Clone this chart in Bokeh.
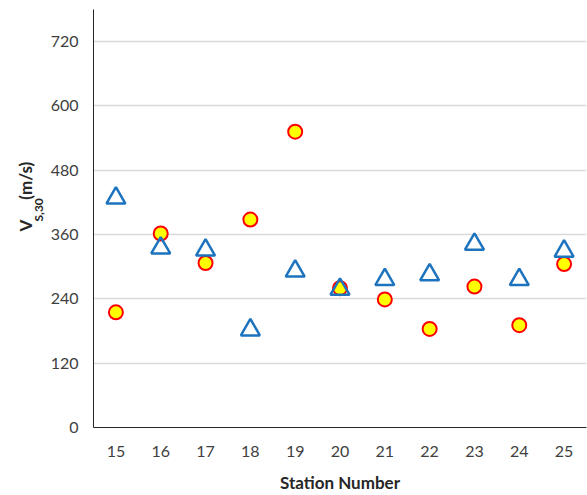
from bokeh.plotting import figure
from bokeh.models import Range1d, FixedTicker, Title
from bokeh.embed import file_html
from bokeh.resources import INLINE

stations = [15, 16, 17, 18, 19, 20, 21, 22, 23, 24, 25]
vs30_circles = [215, 362, 307, 388, 552, 260, 239, 184, 263, 191, 305]
vs30_triangles = [428, 335, 331, 182, 292, 258, 276, 285, 342, 276, 329]
y_ticks = [0, 120, 240, 360, 480, 600, 720]

FONT = "Lato"

p = figure(width=587, height=495, x_range=Range1d(14.5, 25.5), y_range=Range1d(0, 780),
           output_backend="svg", toolbar_location=None,
           min_border_left=93, min_border_right=1, min_border_top=9, min_border_bottom=68)
p.outline_line_color = None
p.background_fill_color = "white"
p.border_fill_color = "white"

p.xgrid.grid_line_color = None
p.ygrid.grid_line_color = "#d9d9d9"
p.ygrid.grid_line_width = 1.5

p.xaxis.ticker = FixedTicker(ticks=stations)
p.yaxis.ticker = FixedTicker(ticks=y_ticks)
for ax in (p.xaxis[0], p.yaxis[0]):
    ax.major_tick_line_color = None
    ax.minor_tick_line_color = None
    ax.major_tick_out = 0
    ax.major_tick_in = 0
    ax.minor_tick_out = 0
    ax.minor_tick_in = 0
    ax.axis_line_color = "#262626"
    ax.axis_line_width = 1
    ax.major_label_text_font = FONT
    ax.major_label_text_font_size = "16px"
    ax.major_label_text_color = "#404040"

p.xaxis.major_label_standoff = 18
p.yaxis.major_label_standoff = 15
p.xaxis.axis_label = "Station Number"
p.xaxis.axis_label_text_font = FONT
p.xaxis.axis_label_text_font_size = "17px"
p.xaxis.axis_label_text_font_style = "bold"
p.xaxis.axis_label_text_color = "#262626"
p.xaxis.axis_label_standoff = 12

p.scatter(stations, vs30_circles, marker="circle", size=14, fill_color="#ffff00",
          line_color="#ff0000", line_width=2)
p.scatter(stations, vs30_triangles, marker="triangle", size=19, fill_color=None,
          line_color="#1e73be", line_width=2.5)

# y-axis title "V_S,30 (m/s)": subscript part (inner) and main part (outer)
sub = Title(text="S,30", text_font=FONT, text_font_size="12px", text_font_style="bold",
            text_color="#262626", align="left", offset=206, standoff=4)
main = Title(text="V" + "\u00a0" * 5 + "(m/s)", text_font=FONT, text_font_size="17px",
             text_font_style="bold", text_color="#262626", align="left", offset=196, standoff=-18)
p.add_layout(sub, "left")
p.add_layout(main, "left")

open("out.html", "w").write(file_html(p, INLINE))
